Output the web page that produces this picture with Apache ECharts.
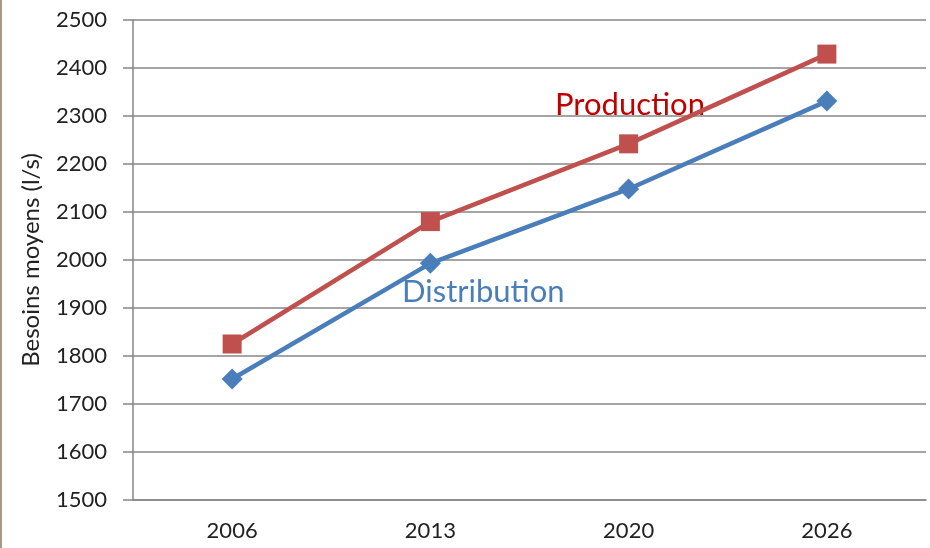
<!DOCTYPE html>
<html>
<head>
<meta charset="utf-8">
<script src="https://cdn.jsdelivr.net/npm/echarts@6/dist/echarts.min.js"></script>
<style>html,body{margin:0;padding:0;background:#fff}#c{width:930px;height:548px}</style>
</head>
<body>
<div id="c"></div>
<script>
const categories = ['2006', '2013', '2020', '2026'];
const production = [1825, 2080, 2242, 2429];
const distribution = [1752, 1993, 2148, 2331];
const yTicks = [1500, 1600, 1700, 1800, 1900, 2000, 2100, 2200, 2300, 2400, 2500];

const FONT = 'Lato';
const chart = echarts.init(document.getElementById('c'));
chart.setOption({
  animation: false,
  backgroundColor: '#fff',
  grid: { left: 133, right: 4, top: 20, bottom: 48 },
  xAxis: {
    type: 'category',
    data: categories,
    boundaryGap: true,
    axisLine: { lineStyle: { color: '#868686', width: 1.5 } },
    axisTick: { length: 7, lineStyle: { color: '#868686', width: 1.5 } },
    axisLabel: { color: '#222', fontFamily: FONT, fontSize: 22, margin: 20 }
  },
  yAxis: {
    type: 'value',
    min: yTicks[0],
    max: yTicks[yTicks.length - 1],
    interval: 100,
    name: 'Besoins moyens (l/s)',
    nameLocation: 'middle',
    nameGap: 90,
    nameTextStyle: { color: '#222', fontFamily: FONT, fontSize: 24 },
    axisLine: { show: true, lineStyle: { color: '#868686', width: 1.5 } },
    axisTick: { show: true, length: 10, lineStyle: { color: '#868686', width: 1.5 } },
    axisLabel: { color: '#222', fontFamily: FONT, fontSize: 22, margin: 26, formatter: v => String(v) },
    splitLine: { lineStyle: { color: '#868686', width: 1.5 } }
  },
  series: [
    {
      name: 'Production',
      type: 'line',
      data: production,
      symbol: 'rect',
      symbolSize: 19,
      lineStyle: { color: '#c0504d', width: 4.5 },
      itemStyle: { color: '#c0504d' }
    },
    {
      name: 'Distribution',
      type: 'line',
      data: distribution,
      symbol: 'diamond',
      symbolSize: 21,
      lineStyle: { color: '#4a7ebb', width: 4.5 },
      itemStyle: { color: '#4a7ebb' }
    }
  ],
  graphic: [
    { type: 'rect', left: 0, top: 0, shape: { width: 2, height: 548 }, style: { fill: '#a89888' } },
    { type: 'text', left: 555, top: 89, style: { text: 'Production', fill: '#c00000', font: '31px Lato' } },
    { type: 'text', left: 402, top: 276, style: { text: 'Distribution', fill: '#4a7ebb', font: '31px Lato' } }
  ]
});
</script>
</body>
</html>
